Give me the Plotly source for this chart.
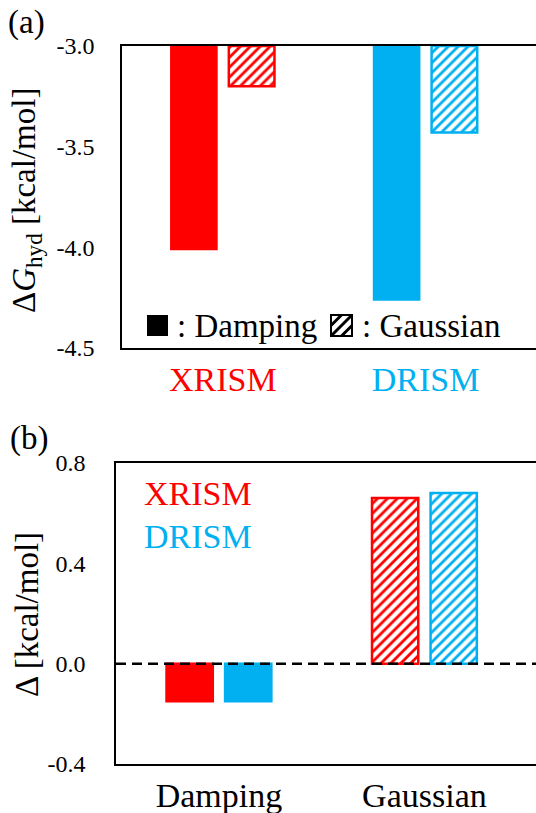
import plotly.graph_objects as go

# ---- data -----------------------------------------------------------
# (a) hydration free energy per solvent model and closure
SOLVENTS = ["XRISM", "DRISM"]
DAMPING_G = [-4.01, -4.26]
GAUSSIAN_G = [-3.20, -3.43]
A_BASE = -3.0
A_TICKS = [-4.5, -4.0, -3.5, -3.0]

# (b) deviation per closure and solvent model
CLOSURES = ["Damping", "Gaussian"]
XRISM_DELTA = [-0.15, 0.66]
DRISM_DELTA = [-0.15, 0.68]
B_TICKS = [-0.4, 0.0, 0.4, 0.8]

# ---- style ----------------------------------------------------------
W, H = 536, 813
RED = "#FF0000"
BLUE = "#00B0F0"
SOLVENT_COLORS = [RED, BLUE]
FONT = "Liberation Serif, DejaVu Serif, Noto Serif, serif"
BIG = 34
TICK = 24
HATCH = dict(shape="/", bgcolor="white", size=7, solidity=0.4, fillmode="replace")


def px(x):
    return x / W


def py(y):
    return 1 - y / H


fig = go.Figure()

# panel (a): bars hang from the -3.0 baseline
fig.add_trace(go.Bar(
    x=SOLVENTS, y=[v - A_BASE for v in DAMPING_G], base=A_BASE,
    marker=dict(color=SOLVENT_COLORS, line=dict(color=SOLVENT_COLORS, width=2)),
    xaxis="x", yaxis="y", showlegend=False,
))
fig.add_trace(go.Bar(
    x=SOLVENTS, y=[v - A_BASE for v in GAUSSIAN_G], base=A_BASE,
    marker=dict(color="white", line=dict(color=SOLVENT_COLORS, width=2.5),
                pattern=dict(HATCH, fgcolor=SOLVENT_COLORS)),
    xaxis="x", yaxis="y", showlegend=False,
))

# panel (b): solid for Damping, hatched for Gaussian
for vals, col in ((XRISM_DELTA, RED), (DRISM_DELTA, BLUE)):
    fig.add_trace(go.Bar(
        x=CLOSURES, y=vals,
        marker=dict(color=col, line=dict(color=col, width=2.5),
                    pattern=dict(HATCH, shape=["", "/"], fgcolor=col)),
        xaxis="x2", yaxis="y2", showlegend=False,
    ))

axis_common = dict(
    showline=True, linecolor="black", linewidth=1.5, showgrid=False,
    zeroline=False, ticks="", layer="below traces", automargin=False,
    tickfont=dict(family=FONT, size=TICK, color="black"),
)

fig.update_layout(
    template="none",
    width=W, height=H,
    margin=dict(l=0, r=0, t=0, b=0, pad=0, autoexpand=False),
    paper_bgcolor="white", plot_bgcolor="white",
    barmode="group", bargap=0.43, bargroupgap=0.21,
    font=dict(family=FONT, color="black"),
    xaxis=dict(
        axis_common, domain=[px(122), 1], anchor="y", type="category",
        range=[-0.497, 1.545], mirror=True,
        tickmode="array", tickvals=SOLVENTS,
        ticktext=[f'<span style="color:{c}">{s}</span>'
                  for s, c in zip(SOLVENTS, SOLVENT_COLORS)],
        tickfont=dict(family=FONT, size=BIG), ticklabelstandoff=0,
    ),
    yaxis=dict(
        axis_common, domain=[py(348), py(46)], anchor="x",
        range=[-4.5, -3.0], tickmode="array", tickvals=A_TICKS,
        ticktext=[f"{v:.1f}" for v in A_TICKS], ticklabelstandoff=21,
    ),
    xaxis2=dict(
        axis_common, domain=[px(116), 1], anchor="y2", type="category",
        range=[-0.501, 1.543], mirror=True,
        tickmode="array", tickvals=CLOSURES, ticktext=CLOSURES,
        tickfont=dict(family=FONT, size=BIG, color="black"), ticklabelstandoff=0,
    ),
    yaxis2=dict(
        axis_common, domain=[py(764), py(463)], anchor="x2",
        range=[-0.4, 0.8], tickmode="array", tickvals=B_TICKS,
        ticktext=[f"{v:.1f}" for v in B_TICKS], ticklabelstandoff=24,
    ),
)

# dashed zero reference in panel (b)
fig.add_shape(type="line", xref="x2 domain", x0=0, x1=1, yref="y2", y0=0, y1=0,
              line=dict(color="black", width=2.5, dash="10px,6px"), layer="above")

# legend glyphs for panel (a): solid and hatched squares
SQ = 21
sx0, sy0 = 147, 315
fig.add_shape(type="rect", xref="paper", yref="paper",
              x0=px(sx0), x1=px(sx0 + SQ), y0=py(sy0 + SQ), y1=py(sy0),
              fillcolor="black", line=dict(width=0))
hx0, hy0 = 331, 315
fig.add_shape(type="rect", xref="paper", yref="paper",
              x0=px(hx0), x1=px(hx0 + SQ), y0=py(hy0 + SQ), y1=py(hy0),
              fillcolor="white", line=dict(color="black", width=2))
segs = []
for k in (0.5 * SQ, 1.0 * SQ, 1.5 * SQ):
    if k <= SQ:
        a, b = (hx0, hy0 + k), (hx0 + k, hy0)
    else:
        a, b = (hx0 + k - SQ, hy0 + SQ), (hx0 + SQ, hy0 + k - SQ)
    segs.append(f"M{px(a[0])},{py(a[1])} L{px(b[0])},{py(b[1])}")
fig.add_shape(type="path", xref="paper", yref="paper", path=" ".join(segs),
              line=dict(color="black", width=3))


def label(text, x, y, size=BIG, color="black", anchor="left", angle=0):
    fig.add_annotation(text=text, x=px(x), y=py(y), xref="paper", yref="paper",
                       xanchor=anchor, yanchor="middle", showarrow=False,
                       textangle=angle, font=dict(family=FONT, size=size, color=color))


label(": Damping", 175, 326, size=33)
label(": Gaussian", 360, 326, size=33)

# panel (b) colour key
label("XRISM", 142, 493, color=RED)
label("DRISM", 142, 536, color=BLUE)

# axis titles
label("Δ<i>G</i><sub>hyd</sub> [kcal/mol]", 27, 201, size=33, anchor="center", angle=-90)
label("Δ [kcal/mol]", 27, 615, size=33, anchor="center", angle=-90)

# panel tags
label("(a)", 6, 23, size=33)
label("(b)", 8, 438, size=33)

fig.write_html("out.html")
